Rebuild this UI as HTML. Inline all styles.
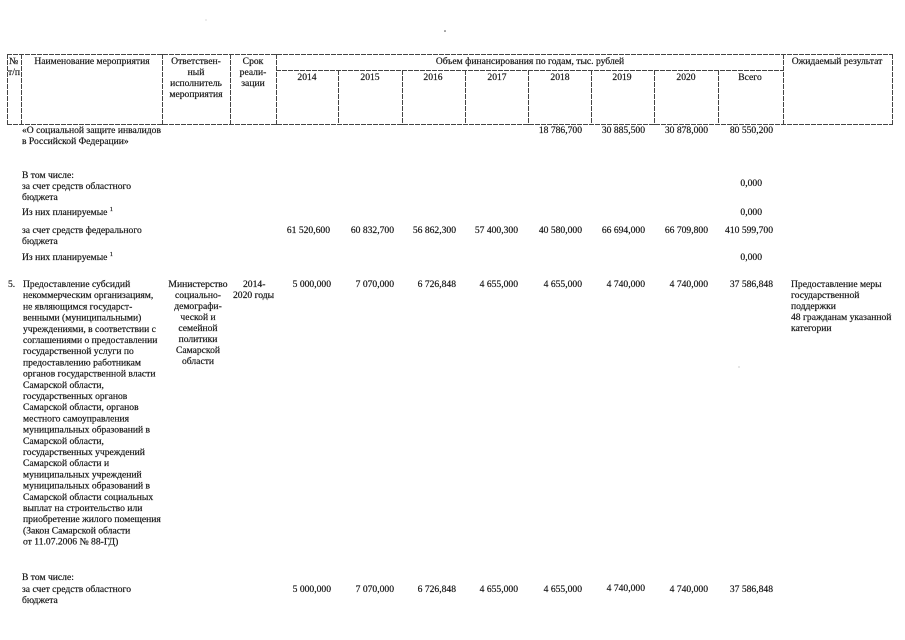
<!DOCTYPE html>
<html><head><meta charset="utf-8"><style>
html,body{margin:0;padding:0;background:#fff;}
svg{display:block;}
text{font-family:"Liberation Serif","Noto Serif CJK SC",serif;font-size:9.6px;fill:#111;stroke:#222;stroke-width:0.2px;}
.c{text-anchor:middle;}
.e{text-anchor:end;}
</style></head><body>
<svg width="905" height="640" viewBox="0 0 905 640" xmlns="http://www.w3.org/2000/svg">
<g stroke="#444" stroke-width="1" fill="none" stroke-dasharray="5,1">
<line x1="7" y1="54.5" x2="892" y2="54.5"/>
<line x1="276" y1="70.5" x2="783" y2="70.5"/>
<line x1="7" y1="124.5" x2="892" y2="124.5"/>
<line x1="7.5" y1="54" x2="7.5" y2="125"/>
<line x1="21.5" y1="54" x2="21.5" y2="125"/>
<line x1="162.5" y1="54" x2="162.5" y2="125"/>
<line x1="230.5" y1="54" x2="230.5" y2="125"/>
<line x1="276.5" y1="54" x2="276.5" y2="125"/>
<line x1="338.5" y1="70" x2="338.5" y2="125"/>
<line x1="402.5" y1="70" x2="402.5" y2="125"/>
<line x1="465.5" y1="70" x2="465.5" y2="125"/>
<line x1="528.5" y1="70" x2="528.5" y2="125"/>
<line x1="591.5" y1="70" x2="591.5" y2="125"/>
<line x1="654.5" y1="70" x2="654.5" y2="125"/>
<line x1="718.5" y1="70" x2="718.5" y2="125"/>
<line x1="783.5" y1="54" x2="783.5" y2="125"/>
<line x1="892.5" y1="54" x2="892.5" y2="125"/>
</g>
<!-- specks -->
<circle cx="445" cy="31" r="0.8" fill="#444"/>
<circle cx="206" cy="20" r="0.5" fill="#999"/>
<circle cx="739" cy="367" r="0.5" fill="#777"/>

<!-- header -->
<text x="9" y="64">№</text>
<text x="8" y="75" textLength="12">т/п</text>
<text class="c" x="92" y="64">Наименование мероприятия</text>
<text class="c" x="196" y="64">Ответствен-</text>
<text class="c" x="196" y="75">ный</text>
<text class="c" x="196" y="86">исполнитель</text>
<text class="c" x="196" y="97">мероприятия</text>
<text class="c" x="253" y="64">Срок</text>
<text class="c" x="253" y="75">реали-</text>
<text class="c" x="253" y="86">зации</text>
<text class="c" x="530" y="64">Объем финансирования по годам, тыс. рублей</text>
<text class="c" x="837" y="64">Ожидаемый результат</text>
<text class="c" x="307" y="80">2014</text>
<text class="c" x="370" y="80">2015</text>
<text class="c" x="433" y="80">2016</text>
<text class="c" x="497" y="80">2017</text>
<text class="c" x="560" y="80">2018</text>
<text class="c" x="622" y="80">2019</text>
<text class="c" x="686" y="80">2020</text>
<text class="c" x="750" y="80">Всего</text>

<!-- block 1 -->
<text x="22" y="133">«О социальной защите инвалидов</text>
<text x="22" y="144">в Российской Федерации»</text>
<text class="e" x="582" y="133">18 786,700</text>
<text class="e" x="645" y="133">30 885,500</text>
<text class="e" x="708" y="133">30 878,000</text>
<text class="e" x="773" y="133">80 550,200</text>

<text x="22" y="178">В том числе:</text>
<text x="22" y="189">за счет средств областного</text>
<text x="22" y="200">бюджета</text>
<text class="e" x="762" y="186">0,000</text>

<text x="22" y="215">Из них планируемые <tspan font-size="6" dy="-4">1</tspan></text>
<text class="e" x="762" y="215">0,000</text>

<text x="22" y="233">за счет средств федерального</text>
<text x="22" y="244">бюджета</text>
<text class="e" x="330" y="233">61 520,600</text>
<text class="e" x="394" y="233">60 832,700</text>
<text class="e" x="456" y="233">56 862,300</text>
<text class="e" x="518" y="233">57 400,300</text>
<text class="e" x="582" y="233">40 580,000</text>
<text class="e" x="645" y="233">66 694,000</text>
<text class="e" x="708" y="233">66 709,800</text>
<text class="e" x="773" y="233">410 599,700</text>

<text x="22" y="260">Из них планируемые <tspan font-size="6" dy="-4">1</tspan></text>
<text class="e" x="762" y="260">0,000</text>

<!-- row 5 -->
<text x="8" y="287">5.</text>
<g>
<text x="23" y="287">Предоставление субсидий</text>
<text x="23" y="298.2">некоммерческим организациям,</text>
<text x="23" y="309.4">не являющимся государст-</text>
<text x="23" y="320.6">венными (муниципальными)</text>
<text x="23" y="331.8">учреждениями, в соответствии с</text>
<text x="23" y="343">соглашениями о предоставлении</text>
<text x="23" y="354.2">государственной услуги по</text>
<text x="23" y="365.4">предоставлению работникам</text>
<text x="23" y="376.6">органов государственной власти</text>
<text x="23" y="387.8">Самарской области,</text>
<text x="23" y="399">государственных органов</text>
<text x="23" y="410.2">Самарской области, органов</text>
<text x="23" y="421.4">местного самоуправления</text>
<text x="23" y="432.6">муниципальных образований в</text>
<text x="23" y="443.8">Самарской области,</text>
<text x="23" y="455">государственных учреждений</text>
<text x="23" y="466.2">Самарской области и</text>
<text x="23" y="477.4">муниципальных учреждений</text>
<text x="23" y="488.6">муниципальных образований в</text>
<text x="23" y="499.8">Самарской области социальных</text>
<text x="23" y="511">выплат на строительство или</text>
<text x="23" y="522.2">приобретение жилого помещения</text>
<text x="23" y="533.4">(Закон Самарской области</text>
<text x="23" y="544.6">от 11.07.2006 № 88-ГД)</text>
</g>
<text class="c" x="198" y="287">Министерство</text>
<text class="c" x="198" y="298">социально-</text>
<text class="c" x="198" y="309">демографи-</text>
<text class="c" x="198" y="320">ческой и</text>
<text class="c" x="198" y="331">семейной</text>
<text class="c" x="198" y="342">политики</text>
<text class="c" x="198" y="353">Самарской</text>
<text class="c" x="198" y="364">области</text>
<text x="243" y="287">2014-</text>
<text x="233" y="298">2020 годы</text>
<text class="e" x="331" y="287">5 000,000</text>
<text class="e" x="394" y="287">7 070,000</text>
<text class="e" x="456" y="287">6 726,848</text>
<text class="e" x="518" y="287">4 655,000</text>
<text class="e" x="582" y="287">4 655,000</text>
<text class="e" x="645" y="287">4 740,000</text>
<text class="e" x="708" y="287">4 740,000</text>
<text class="e" x="773" y="287">37 586,848</text>
<text x="791" y="287">Предоставление меры</text>
<text x="791" y="298">государственной</text>
<text x="791" y="309">поддержки</text>
<text x="791" y="320">48 гражданам  указанной</text>
<text x="791" y="331">категории</text>

<!-- bottom block -->
<text x="22" y="580">В том числе:</text>
<text x="22" y="592">за счет средств областного</text>
<text x="22" y="603">бюджета</text>
<text class="e" x="331" y="592">5 000,000</text>
<text class="e" x="394" y="592">7 070,000</text>
<text class="e" x="456" y="592">6 726,848</text>
<text class="e" x="518" y="592">4 655,000</text>
<text class="e" x="582" y="592">4 655,000</text>
<text class="e" x="645" y="591">4 740,000</text>
<text class="e" x="708" y="592">4 740,000</text>
<text class="e" x="773" y="592">37 586,848</text>
</svg>
</body></html>
